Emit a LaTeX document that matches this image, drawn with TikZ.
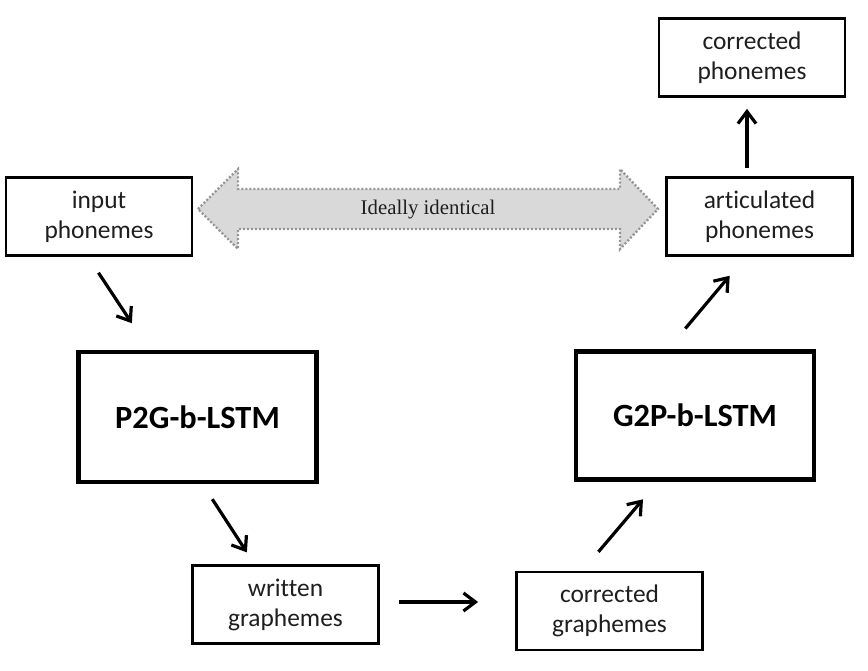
\documentclass[tikz,border=0pt]{standalone}
\usepackage{fontspec}
\setmainfont{Carlito}[Ligatures={NoCommon}]
\newfontfamily\notefont{Liberation Serif}
\usetikzlibrary{arrows.meta}
\definecolor{labelInk}{RGB}{30, 30, 30}
\definecolor{noteFill}{RGB}{217, 217, 217}
\definecolor{noteDots}{RGB}{150, 150, 150}
\tikzset{
  phonBox/.style={
    draw=black,
    line width=1.4pt,
    rectangle,
    minimum width=93pt,
    minimum height=39pt,
    align=center,
    text=labelInk,
    font=\fontsize{12.7}{15}\selectfont
  },
  lstmBox/.style={
    draw=black,
    line width=2.1pt,
    rectangle,
    minimum width=119pt,
    minimum height=65pt,
    text=black,
    font=\fontsize{16.2}{19}\selectfont\bfseries
  },
  flowArrow/.style={
    -{Straight Barb[length=6pt,width=9pt,line width=1.6pt]},
    line width=1.6pt,
    draw=black
  },
  noteArrow/.style={
    fill=noteFill,
    draw=noteDots,
    line width=1.2pt,
    dash pattern=on 1pt off 1pt
  }
}
\begin{document}
\begin{tikzpicture}[x=0.5pt, y=-0.5pt]
  \useasboundingbox (0,0) rectangle (868,670);
  % Boxes
  \node[phonBox] (inph) at (99,216.5) {input\\phonemes};
  \node[phonBox] (artph) at (759.5,216.5) {articulated\\phonemes};
  \node[phonBox] (corph) at (752,57.5) {corrected\\phonemes};
  \node[lstmBox] (p2g) at (197.5,417) {P2G-b-LSTM};
  \node[lstmBox, minimum height=64pt] (g2p) at (695,415.5) {G2P-b-LSTM};
  \node[phonBox] (wrgr) at (285.5,604.5) {written\\graphemes};
  \node[phonBox] (corgr) at (609.5,611) {corrected\\graphemes};

  % Ideally identical
  \draw[noteArrow] (198,209) -- (238,169) -- (238,189) -- (620,189) -- (620,169)
    -- (658,209) -- (620,249) -- (620,229) -- (238,229) -- (238,249) -- cycle;
  \node[text=labelInk, font=\notefont\fontsize{10.4}{12}\selectfont] (ideal) at (428,210) {Ideally identical};

  % Arrows
  \draw[flowArrow, shorten <=9.5pt, shorten >=16pt]
    ([xshift=-5.5pt]inph.south) -- ([xshift=-24pt]p2g.north);
  \draw[flowArrow, shorten <=9pt, shorten >=7pt]
    ([xshift=2.5pt]p2g.south) -- ([xshift=-15.5pt]wrgr.north);
  \draw[flowArrow, shorten <=9.5pt, shorten >=18.5pt]
    ([yshift=1.25pt]wrgr.east) -- ([yshift=4.5pt]corgr.west);
  \draw[flowArrow, shorten <=12.3pt, shorten >=11.6pt]
    ([xshift=-13.5pt]corgr.north) -- ([xshift=-18.5pt]g2p.south);
  \draw[flowArrow, shorten <=13.6pt, shorten >=12.3pt]
    ([xshift=-13.6pt]g2p.north) -- ([xshift=-7pt]artph.south);
  \draw[flowArrow, shorten <=4pt, shorten >=5.5pt]
    ([xshift=-6.25pt]artph.north) -- ([xshift=-2.5pt]corph.south);
\end{tikzpicture}
\end{document}
